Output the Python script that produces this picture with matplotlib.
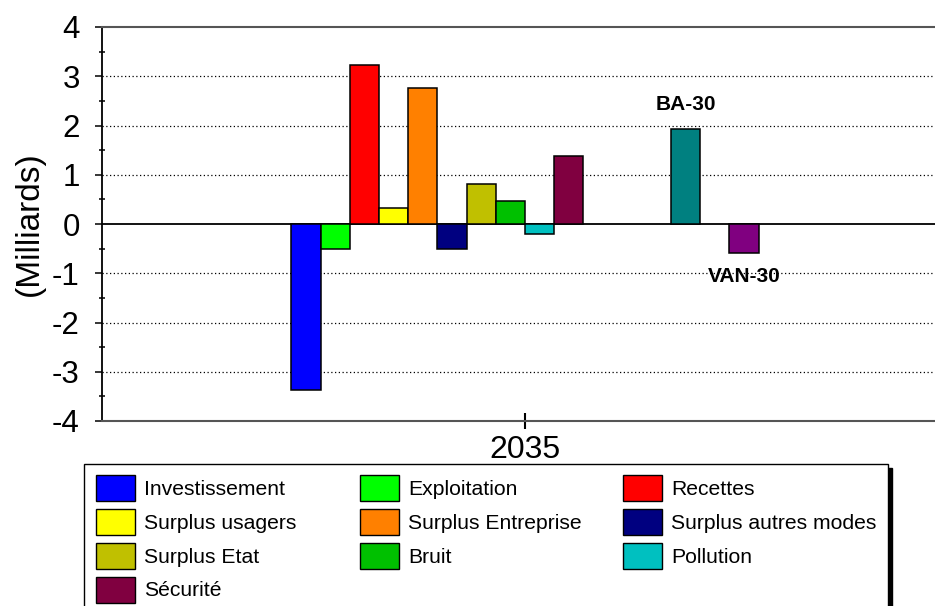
import numpy as np
import matplotlib
matplotlib.use("Agg")
import matplotlib.pyplot as plt
from matplotlib.patches import Patch, Rectangle

plt.rcParams['font.family'] = ['Liberation Sans', 'DejaVu Sans']
plt.rcParams['axes.unicode_minus'] = False

# ---- data ----
categories = ["Investissement", "Exploitation", "Recettes", "Surplus usagers",
              "Surplus Entreprise", "Surplus autres modes", "Surplus Etat",
              "Bruit", "Pollution", "Sécurité"]
values = [-3.37, -0.50, 3.23, 0.33, 2.77, -0.50, 0.82, 0.47, -0.20, 1.39]
colors = ["#0000FF", "#00FF00", "#FF0000", "#FFFF00", "#FF8000", "#000080",
          "#C0C000", "#00C000", "#00C0C0", "#800040"]
summary_labels = ["BA-30", "VAN-30"]
summary_values = [1.93, -0.59]
summary_colors = ["#008080", "#800080"]
year_label = "2035"
y_label = "(Milliards)"

W, H = 935, 606
fig = plt.figure(figsize=(W/100, H/100), dpi=100)
ax = fig.add_axes([102/W, 1 - 421/H, 846/W, (421 - 27)/H])

pos = np.arange(len(values))
sum_pos = np.array([len(values) + 3, len(values) + 5])
center = (pos[0] + sum_pos[-1]) / 2

ax.bar(pos, values, width=1.0, color=colors, edgecolor="black", linewidth=1.1, zorder=3)
ax.bar(sum_pos, summary_values, width=1.0, color=summary_colors, edgecolor="black",
       linewidth=1.1, zorder=3)

for x, v, lab in zip(sum_pos, summary_values, summary_labels):
    dy = 0.50 if v > 0 else -0.47
    ax.text(x, v + dy, lab, ha="center", va="center", fontsize=15, fontweight="bold")

px = 29.2  # px per bar unit
ax.set_xlim(center - (525 - 102)/px, center + (948 - 525)/px)
ax.set_ylim(-4, 4)
ax.set_yticks(np.arange(-4, 5, 1))
ax.set_yticks(np.arange(-3.5, 4, 1), minor=True)
ax.set_xticks([center])
ax.set_xticklabels([year_label], fontsize=23)

for yv in [-3, -2, -1, 1, 2, 3]:
    ax.axhline(yv, color="black", linestyle=(0, (1, 2)), linewidth=0.9, zorder=1)
ax.axhline(0, color="black", linewidth=1.3, zorder=2)

ax.tick_params(axis="y", which="major", direction="out", length=5, width=1.1,
               labelsize=22.5, pad=11)
ax.tick_params(axis="y", which="minor", direction="inout", length=5, width=1.1)
ax.tick_params(axis="x", which="major", direction="inout", length=11, width=1.5,
               pad=4.5)

ax.spines["left"].set_color("black")
ax.spines["left"].set_linewidth(1.3)
for s in ["top", "bottom"]:
    ax.spines[s].set_color("#555555")
    ax.spines[s].set_linewidth(1.5)
ax.spines["right"].set_visible(False)

ax.set_ylabel(y_label, fontsize=24, labelpad=5)

# legend frame with black shadow (cut off by the figure bottom like the reference)
fx0, fx1, fy_top = 84, 888, 464
shadow = Rectangle((fx0/W + 4/W, -20/H), (fx1 - fx0)/W, (H - fy_top + 20)/H - 4/H,
                   transform=fig.transFigure, facecolor="black", edgecolor="black",
                   zorder=1)
frame = Rectangle((fx0/W, -20/H), (fx1 - fx0)/W, (H - fy_top + 20)/H,
                  transform=fig.transFigure, facecolor="white", edgecolor="black",
                  linewidth=1.0, zorder=2)
fig.add_artist(shadow)
fig.add_artist(frame)

# legend: three equal-width columns, filled row by row
ncol = 3
col_x = [96, 360, 623]
for c in range(ncol):
    idx = list(range(c, len(categories), ncol))
    hs = [Patch(facecolor=colors[i], edgecolor="black", linewidth=1.0) for i in idx]
    leg = fig.legend(hs, [categories[i] for i in idx], loc="upper left",
                     bbox_to_anchor=(col_x[c]/W, 1 - 475/H),
                     fontsize=15.2, frameon=False,
                     handlelength=1.85, handleheight=1.52, handletextpad=0.42,
                     labelspacing=0.37, borderpad=0, borderaxespad=0)
    leg.set_zorder(5)

fig.savefig("out.png", dpi=100)
